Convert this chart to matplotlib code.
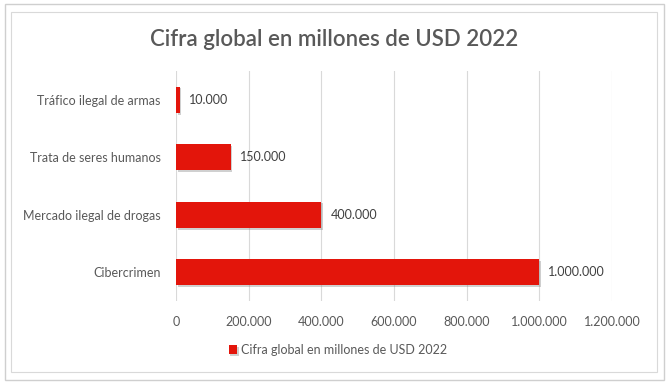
import matplotlib
matplotlib.use("Agg")
import matplotlib.pyplot as plt
from matplotlib.patches import Rectangle
from matplotlib.ticker import FuncFormatter
import matplotlib.patheffects as pe

categories = ["Cibercrimen", "Mercado ilegal de drogas", "Trata de seres humanos", "Tráfico ilegal de armas"]
values = [1000000, 400000, 150000, 10000]
xticks = [0, 200000, 400000, 600000, 800000, 1000000, 1200000]
series_name = "Cifra global en millones de USD 2022"
title = "Cifra global en millones de USD 2022"

plt.rcParams['font.family'] = ['Lato', 'DejaVu Sans']
txt = "#595959"
red = "#E3150B"

def fmt(v):
    return f"{int(v):,}".replace(",", ".")

fig = plt.figure(figsize=(6.69, 3.84), dpi=100)
W, H = 669, 384
# outer and inner frames
fig.patches.append(Rectangle((5/W, 4/H), 659/W, 376/H, transform=fig.transFigure,
                             fill=False, edgecolor="#cfcfcf", lw=1.0))
fig.patches.append(Rectangle((11/W, 12/H), 646/W, 360/H, transform=fig.transFigure,
                             fill=False, edgecolor="#d9d9d9", lw=0.8))

ax = fig.add_axes([176/W, 1-301/H, (612-176)/W, 230/H])
bars = ax.barh(range(len(categories)), values, height=0.46, color=red, label=series_name,
               zorder=3)
for b in bars:
    b.set_path_effects([pe.SimplePatchShadow(offset=(1.2, -1.2), shadow_rgbFace="#8a8a8a", alpha=0.4), pe.Normal()])
for i, v in enumerate(values):
    ax.annotate(fmt(v), xy=(v, i), xytext=(6.5, 0), textcoords="offset points",
                va="center", ha="left", fontsize=9, color="#404040")

ax.set_xlim(0, 1200000)
ax.set_ylim(-0.5, len(categories) - 0.5)
ax.set_xticks(xticks)
ax.xaxis.set_major_formatter(FuncFormatter(lambda v, p: fmt(v)))
ax.set_yticks(range(len(categories)))
ax.set_yticklabels(categories)
ax.tick_params(axis="both", length=0, labelsize=9, labelcolor=txt)
ax.tick_params(axis="x", pad=11)
ax.tick_params(axis="y", pad=11)
ax.grid(axis="x", color="#d9d9d9", lw=0.8, zorder=0)
for s in ax.spines.values():
    s.set_visible(False)

fig.text(334/W, 1-40/H, title, ha="center", va="center", fontsize=16, color=txt, fontweight="semibold")

fig.legend(handles=[bars], labels=[series_name], loc="center", bbox_to_anchor=(338/W, 1-350/H),
           frameon=False, fontsize=9, labelcolor=txt, handlelength=0.7, handleheight=0.7,
           handletextpad=0.3)

fig.savefig("out.png", dpi=100)
